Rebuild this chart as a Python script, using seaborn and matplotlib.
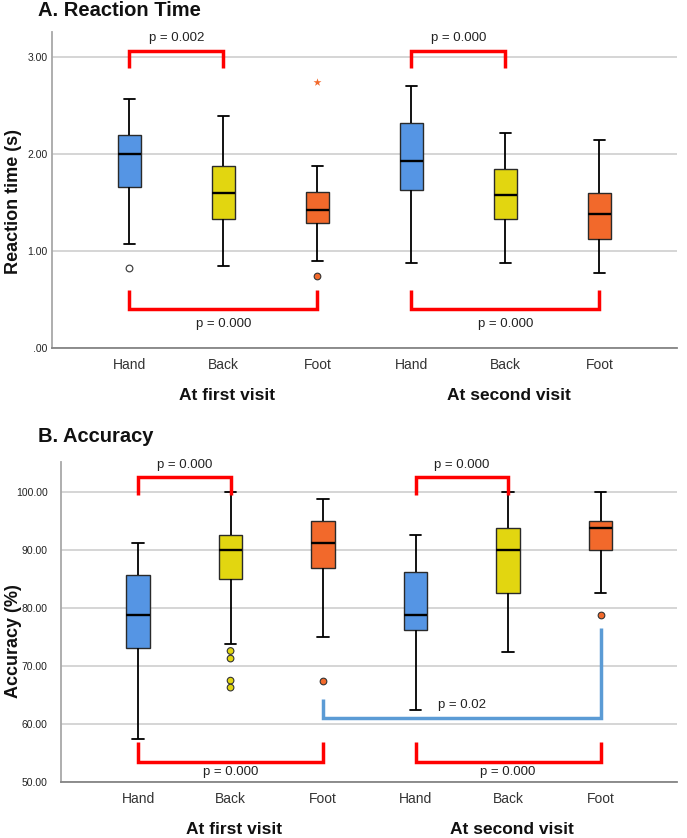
import numpy as np
import pandas as pd
import matplotlib
matplotlib.use("Agg")
import matplotlib.pyplot as plt
import seaborn as sns

# ---------------- data ----------------
categories = ["Hand1", "Back1", "Foot1", "Hand2", "Back2", "Foot2"]
tick_labels = ["Hand", "Back", "Foot", "Hand", "Back", "Foot"]
group_labels = ["At first visit", "At second visit"]
group_centers = ["Back1", "Back2"]

# A. Reaction time (s)
rt_low = [1.08, 0.85, 0.90, 0.88, 0.88, 0.78]
rt_q1 = [1.66, 1.33, 1.29, 1.63, 1.33, 1.13]
rt_med = [2.00, 1.60, 1.43, 1.93, 1.58, 1.38]
rt_q3 = [2.20, 1.88, 1.61, 2.32, 1.85, 1.60]
rt_high = [2.57, 2.40, 1.88, 2.70, 2.22, 2.15]
rt_open_outliers = [[0.83], [], [], [], [], []]
rt_outliers = [[], [], [0.75], [], [], []]
rt_extremes = [[], [], [2.75], [], [], []]
rt_ticks = [0, 1, 2, 3]
rt_tick_labels = [".00", "1.00", "2.00", "3.00"]

# B. Accuracy (%)
acc_low = [57.5, 73.8, 75.0, 62.5, 72.5, 82.6]
acc_q1 = [73.2, 85.0, 86.9, 76.3, 82.6, 90.0]
acc_med = [78.8, 90.0, 91.2, 78.8, 90.0, 93.8]
acc_q3 = [85.7, 92.5, 95.0, 86.2, 93.8, 95.0]
acc_high = [91.2, 100.0, 98.8, 92.5, 100.0, 100.0]
acc_outliers = [[], [72.6, 71.3, 67.5, 66.3], [67.5], [], [], [78.8]]
acc_ticks = [50, 60, 70, 80, 90, 100]
acc_tick_labels = ["50.00", "60.00", "70.00", "80.00", "90.00", "100.00"]

# significance brackets: (left cat, right cat, bar y, left leg end, right leg end, label, label y, colour)
rt_brackets = [
    ("Hand1", "Back1", 3.065, 2.893, 2.893, "p = 0.002", 3.20, "red"),
    ("Hand2", "Back2", 3.065, 2.893, 2.893, "p = 0.000", 3.20, "red"),
    ("Hand1", "Foot1", 0.409, 0.601, 0.601, "p = 0.000", 0.25, "red"),
    ("Hand2", "Foot2", 0.409, 0.601, 0.601, "p = 0.000", 0.25, "red"),
]
acc_brackets = [
    ("Hand1", "Back1", 102.5, 99.5, 99.5, "p = 0.000", 104.6, "red"),
    ("Hand2", "Back2", 102.5, 99.5, 99.5, "p = 0.000", 104.6, "red"),
    ("Hand1", "Foot1", 53.5, 56.9, 56.9, "p = 0.000", 51.8, "red"),
    ("Hand2", "Foot2", 53.5, 56.9, 56.9, "p = 0.000", 51.8, "red"),
    ("Foot1", "Foot2", 61.0, 64.3, 76.6, "p = 0.02", 63.3, "#5b9bd5"),
]

# ---------------- style ----------------
BLUE, YELLOW, ORANGE = "#5595E4", "#E2D610", "#F2692B"
palette = dict(zip(categories, [BLUE, YELLOW, ORANGE, BLUE, YELLOW, ORANGE]))

sns.set_style("white")
plt.rcParams["font.family"] = ["Liberation Sans", "DejaVu Sans"]


def sample_from_stats(lo, q1, med, q3, hi, outs):
    """Sorted sample whose linear-interpolated quartiles/whiskers equal the stats."""
    below = sorted(v for v in outs if v < q1)
    above = sorted(v for v in outs if v > q3)
    m = max(len(below), len(above)) + 1
    vals = below + [lo] + [q1] * (m - len(below))
    vals += [med] * m
    vals += [q3] * m
    vals += [q3] * (m - len(above) - 1) + [hi] + above
    return vals


def long_frame(low, q1, med, q3, high, outs_lists):
    rows = []
    for i, c in enumerate(categories):
        outs = [v for ol in outs_lists for v in ol[i]]
        for v in sample_from_stats(low[i], q1[i], med[i], q3[i], high[i], outs):
            rows.append((c, v))
    return pd.DataFrame(rows, columns=["cond", "value"])


def points_frame(lists):
    rows = [(c, v) for c, vals in zip(categories, lists) for v in vals]
    return pd.DataFrame(rows, columns=["cond", "value"])


def draw_panel(ax, df, xlim, ylim, ticks, tlabels, ylabel, ylabel_x, ylabel_y, ytick_pad,
               brackets):
    sns.boxplot(data=df, x="cond", y="value", order=categories, hue="cond",
                hue_order=categories, palette=palette, saturation=1, width=0.25,
                linewidth=1.0, linecolor="#2a2a2a", showfliers=False,
                whiskerprops=dict(color="black", linewidth=1.3),
                capprops=dict(color="black", linewidth=1.3),
                medianprops=dict(color="black", linewidth=1.7),
                legend=False, ax=ax)
    for (a, b, ybar, yl, yr, txt, ty, col) in brackets:
        xa, xb = categories.index(a), categories.index(b)
        ax.plot([xa, xa, xb, xb], [yl, ybar, ybar, yr], color=col, lw=2.5,
                solid_joinstyle="miter", solid_capstyle="butt", zorder=4, clip_on=False)
        ax.text((xa + xb) / 2, ty, txt, ha="center", va="center", fontsize=9.5,
                color="#222222", zorder=5)
    ax.set_xlim(*xlim)
    ax.set_ylim(*ylim)
    ax.set_yticks(ticks)
    ax.set_yticklabels(tlabels)
    ax.set_xticks(range(len(categories)))
    ax.set_xticklabels(tick_labels)
    ax.set_xlabel("")
    ax.set_ylabel(ylabel, fontsize=13, fontweight="bold", color="#111111")
    ax.yaxis.set_label_coords(ylabel_x, ylabel_y)
    ax.yaxis.grid(True, color="#d2d2d2", lw=1.3)
    ax.xaxis.grid(False)
    ax.set_axisbelow(True)
    for s in ["top", "right"]:
        ax.spines[s].set_visible(False)
    ax.spines["left"].set_color("#a8a8a8")
    ax.spines["left"].set_linewidth(1.3)
    ax.spines["bottom"].set_color("#858585")
    ax.spines["bottom"].set_linewidth(1.3)
    ax.tick_params(axis="both", length=0)
    ax.tick_params(axis="y", labelsize=7.5, pad=ytick_pad, labelcolor="#222222")
    ax.tick_params(axis="x", labelsize=10, pad=7, labelcolor="#333333")
    for gl, gc in zip(group_labels, group_centers):
        ax.annotate(gl, xy=(categories.index(gc) + 0.04, 0),
                    xycoords=("data", "axes fraction"), xytext=(0, -34),
                    textcoords="offset points", ha="center", va="center",
                    fontsize=12.5, fontweight="bold", color="#111111")


fig = plt.figure(figsize=(6.87, 8.38), dpi=100)
axA = fig.add_axes([0.0753, 0.5844, 0.9098, 0.3778])
axB = fig.add_axes([0.0884, 0.0665, 0.8967, 0.3826])

# ---- panel A ----
dfA = long_frame(rt_low, rt_q1, rt_med, rt_q3, rt_high,
                 [rt_open_outliers, rt_outliers, rt_extremes])
draw_panel(axA, dfA, (-0.826, 5.823), (0, 3.265), rt_ticks, rt_tick_labels,
           "Reaction time (s)", -0.047, 0.465, 3, rt_brackets)
pA = points_frame(rt_outliers)
sns.stripplot(data=pA, x="cond", y="value", order=categories, hue="cond",
              hue_order=categories, palette=palette, jitter=False, size=4.8,
              linewidth=0.8, edgecolor="#333333", legend=False, ax=axA, zorder=3)
pA_open = points_frame(rt_open_outliers)
sns.stripplot(data=pA_open, x="cond", y="value", order=categories, color="white",
              jitter=False, size=4.8, linewidth=0.9, edgecolor="#444444",
              legend=False, ax=axA, zorder=3)
pA_ext = points_frame(rt_extremes)
sns.stripplot(data=pA_ext, x="cond", y="value", order=categories, color=ORANGE,
              marker="*", jitter=False, size=6, linewidth=0, legend=False,
              ax=axA, zorder=3)
axA.set_xlim(-0.826, 5.823)
axA.set_ylim(0, 3.265)
axA.set_xticks(range(len(categories)))
axA.set_xticklabels(tick_labels)
axA.set_xlabel("")

# ---- panel B ----
dfB = long_frame(acc_low, acc_q1, acc_med, acc_q3, acc_high, [acc_outliers])
draw_panel(axB, dfB, (-0.836, 5.824), (50, 105.2), acc_ticks, acc_tick_labels,
           "Accuracy (%)", -0.063, 0.44, 9.5, acc_brackets)
pB = points_frame(acc_outliers)
sns.stripplot(data=pB, x="cond", y="value", order=categories, hue="cond",
              hue_order=categories, palette=palette, jitter=False, size=4.8,
              linewidth=0.8, edgecolor="#333333", legend=False, ax=axB, zorder=3)
axB.set_xlim(-0.836, 5.824)
axB.set_ylim(50, 105.2)
axB.set_xticks(range(len(categories)))
axB.set_xticklabels(tick_labels)
axB.set_xlabel("")

fig.text(37.7 / 687, 1 - 11 / 838, "A. Reaction Time", fontsize=14.5,
         fontweight="bold", ha="left", va="center", color="#111111")
fig.text(37.7 / 687, 1 - 436 / 838, "B. Accuracy", fontsize=14.5,
         fontweight="bold", ha="left", va="center", color="#111111")

fig.savefig("out.png", dpi=100)
